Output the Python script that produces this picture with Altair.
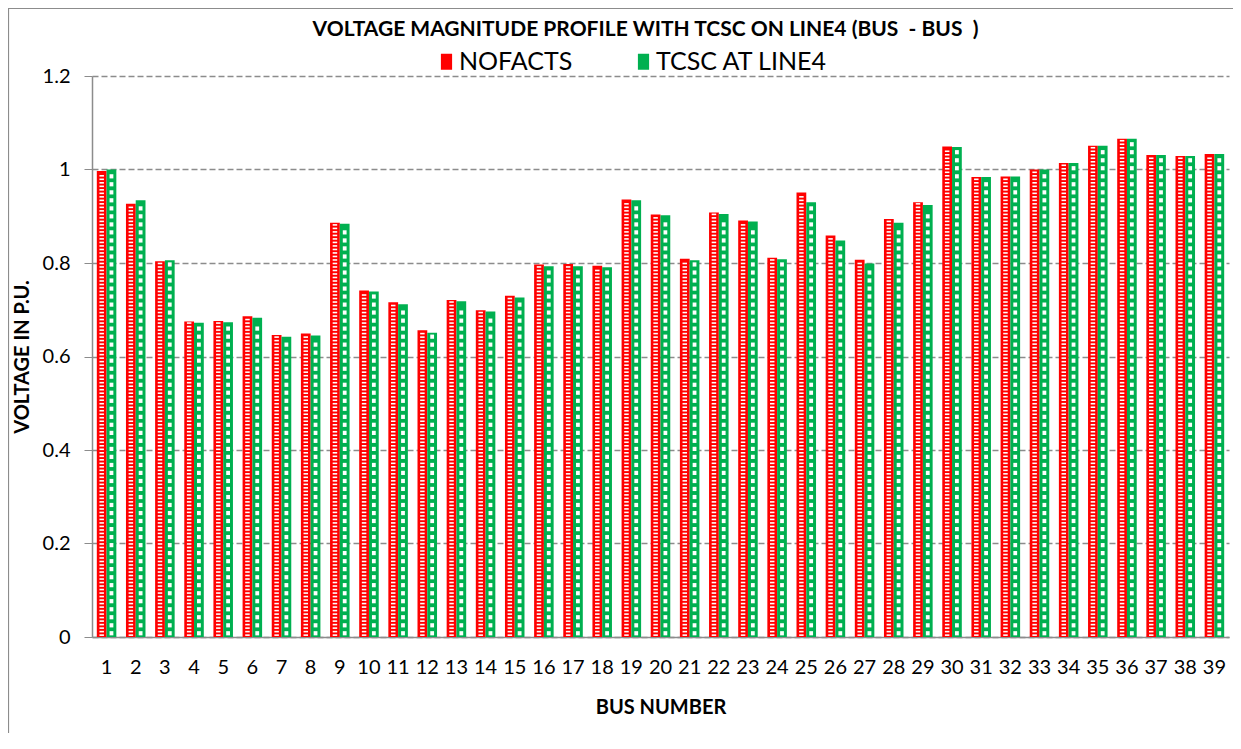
import altair as alt
import pandas as pd

buses = list(range(1, 40))
nofacts = [0.997, 0.927, 0.804, 0.675, 0.676, 0.686, 0.646, 0.649, 0.886, 0.741,
           0.716, 0.656, 0.721, 0.699, 0.730, 0.797, 0.798, 0.794, 0.936, 0.904,
           0.809, 0.908, 0.891, 0.811, 0.951, 0.859, 0.807, 0.894, 0.930, 1.049,
           0.984, 0.985, 1.000, 1.014, 1.051, 1.066, 1.031, 1.029, 1.033]
tcsc = [1.000, 0.934, 0.806, 0.672, 0.673, 0.683, 0.642, 0.645, 0.884, 0.739,
        0.712, 0.651, 0.718, 0.696, 0.726, 0.793, 0.793, 0.791, 0.934, 0.902,
        0.806, 0.905, 0.889, 0.808, 0.930, 0.848, 0.799, 0.886, 0.924, 1.048,
        0.984, 0.985, 1.000, 1.014, 1.051, 1.066, 1.031, 1.029, 1.033]
series_names = ["NOFACTS", "TCSC AT LINE4"]
series_colors = ["#FF0000", "#00B050"]
y_ticks = [0, 0.2, 0.4, 0.6, 0.8, 1.0, 1.2]
title_text = "VOLTAGE MAGNITUDE PROFILE WITH TCSC ON LINE4 (BUS\u00a0 - BUS\u00a0 )"

rows = []
for b, v in zip(buses, nofacts):
    rows.append({"bus": b, "series": series_names[0], "value": v})
for b, v in zip(buses, tcsc):
    rows.append({"bus": b, "series": series_names[1], "value": v})
df = pd.DataFrame(rows)

FONT = "Lato"
GRAY = "#8C8C8C"

x_enc = alt.X("bus:O", title="BUS NUMBER",
              scale=alt.Scale(paddingInner=0.33, paddingOuter=0.165),
              axis=alt.Axis(labelAngle=0, ticks=False, labelFontSize=20, labelFont=FONT,
                            labelColor="#000000", labelPadding=20, domainColor=GRAY,
                            domainWidth=1.5, titleFont=FONT, titleFontSize=20,
                            titleFontWeight="bold", titleColor="#000000",
                            titleY=70, titleBaseline="middle"))
xoff_enc = alt.XOffset("series:N", sort=series_names, scale=alt.Scale(paddingInner=0))
y_enc = alt.Y("value:Q", title="VOLTAGE IN P.U.",
              scale=alt.Scale(domain=[0, 1.2], nice=False),
              axis=alt.Axis(values=y_ticks, format="~g", labelFontSize=20, labelFont=FONT,
                            labelColor="#000000", labelPadding=14, tickSize=8,
                            tickColor=GRAY, domainColor=GRAY, domainWidth=1.5,
                            gridColor=GRAY, gridDash=[6, 3], gridWidth=1.3,
                            titleFont=FONT, titleFontSize=20, titleFontWeight="bold",
                            titleColor="#000000", titleX=-70, titleY=280.5,
                            titleBaseline="middle"))

base = alt.Chart(df)

bars = base.mark_bar().encode(
    x=x_enc,
    xOffset=xoff_enc,
    y=y_enc,
    color=alt.Color("series:N", scale=alt.Scale(domain=series_names, range=series_colors),
                    legend=alt.Legend(title=None, orient="none", legendX=342, legendY=-27,
                                      direction="horizontal",
                                      symbolType="M-0.7,-1H0.7V1H-0.7Z",
                                      symbolSize=256, symbolStrokeWidth=0,
                                      labelFontSize=25, labelFont=FONT, labelColor="#000000",
                                      labelLimit=0, columnPadding=58, labelOffset=0)),
)

red_stripes = base.transform_filter(
    alt.datum.series == series_names[0]
).transform_calculate(
    s="sequence(0.004, datum.value - 0.003, 0.0075)"
).transform_flatten(["s"]).mark_tick(
    color="white", size=4.5, thickness=1.6, xOffset=0.8, opacity=1
).encode(x=alt.X("bus:O"), xOffset=alt.XOffset("series:N", sort=series_names), y=alt.Y("s:Q"))

green_a = base.transform_filter(
    alt.datum.series == series_names[1]
).transform_calculate(
    s="sequence(0.008, datum.value - 0.008, 0.0343)"
).transform_flatten(["s"]).mark_tick(
    color="white", size=3.8, thickness=4.2, xOffset=-2.0, opacity=1
).encode(x=alt.X("bus:O"), xOffset=alt.XOffset("series:N", sort=series_names), y=alt.Y("s:Q"))

green_b = base.transform_filter(
    alt.datum.series == series_names[1]
).transform_calculate(
    s="sequence(0.025, datum.value - 0.008, 0.0343)"
).transform_flatten(["s"]).mark_tick(
    color="white", size=3.8, thickness=4.2, xOffset=2.0, opacity=1
).encode(x=alt.X("bus:O"), xOffset=alt.XOffset("series:N", sort=series_names), y=alt.Y("s:Q"))

frame = alt.Chart(pd.DataFrame({"k": [0]})).mark_rect(
    fillOpacity=0, stroke=GRAY, strokeWidth=1.2
).encode(x=alt.value(-83.5), x2=alt.value(1400), y=alt.value(-67.5), y2=alt.value(900))

chart = alt.layer(frame, bars, red_stripes, green_a, green_b).properties(
    width=1137, height=561,
    title=alt.Title(title_text,
                    font=FONT, fontSize=21, fontWeight="bold", color="#000000",
                    anchor="middle", frame="group", dx=-15, dy=35, offset=3),
    autosize=alt.AutoSizeParams(type="none"),
    padding={"left": 84, "top": 68, "right": 4, "bottom": 96},
).configure_view(stroke=None)

chart.save("out.html", embed_options={"renderer": "svg", "actions": False})
